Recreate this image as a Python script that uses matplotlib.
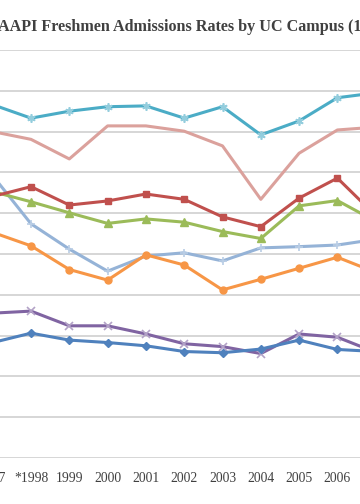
import matplotlib.pyplot as plt

years = list(range(1997, 2008))
tick_labels = ['1997', '*1998', '1999', '2000', '2001', '2002', '2003',
               '2004', '2005', '2006', '2007']

# admission rates (%)
teal = [86.6, 83.3, 85.0, 86.1, 86.3, 83.3, 86.1, 79.2, 82.6, 88.3, 89.5]
pink = [80.0, 78.1, 73.3, 81.4, 81.4, 80.1, 76.5, 63.4, 74.7, 80.4, 81.1]
red = [64.1, 66.5, 62.0, 63.0, 64.7, 63.4, 59.1, 56.7, 63.7, 68.6, 59.4]
green = [65.3, 62.8, 60.1, 57.5, 58.6, 57.8, 55.5, 53.8, 61.8, 63.1, 58.0]
light_blue = [69.2, 57.4, 51.2, 45.8, 49.5, 50.3, 48.3, 51.5, 51.8, 52.2, 53.6]
orange = [55.3, 52.0, 46.2, 43.6, 49.8, 47.3, 41.2, 43.8, 46.5, 49.2, 45.5]
purple = [35.5, 36.0, 32.4, 32.4, 30.4, 28.0, 27.3, 25.6, 30.4, 29.6, 25.9]
blue = [28.3, 30.6, 28.9, 28.3, 27.5, 26.1, 25.8, 26.7, 28.9, 26.6, 26.1]

plt.rcParams['font.family'] = ['Liberation Serif', 'DejaVu Serif']

fig = plt.figure(figsize=(3.6, 5.04), dpi=100)
# the picture is a crop of a wider chart: let the axes run past both edges
ax = fig.add_axes([-40 / 360, 46 / 504, 440 / 360, 408 / 504])

lw = 2.2
ax.plot(years, pink, color='#DBA19C', lw=lw)
ax.plot(years, teal, color='#4BACC6', lw=lw, marker=(6, 2, 0), ms=6,
        mec='#93CDDD', mew=1.2)
ax.plot(years, light_blue, color='#95B3D7', lw=lw, marker='+', ms=6,
        mec='#B9CDE5', mew=1.2)
ax.plot(years, orange, color='#F79646', lw=lw, marker='o', ms=5)
ax.plot(years, green, color='#9BBB59', lw=lw, marker='^', ms=5.5)
ax.plot(years, red, color='#C0504D', lw=lw, marker='s', ms=5)
ax.plot(years, purple, color='#8064A2', lw=lw, marker='x', ms=6,
        mec='#B3A2C7', mew=1.2)
ax.plot(years, blue, color='#4F81BD', lw=lw, marker='D', ms=4)

ax.set_yticks(range(0, 101, 10))
ax.set_ylim(0, 100)
ax.set_xticks(years)
ax.set_xticklabels(tick_labels)
# 1998 sits at 31 px, one year is ~38.3 px
ax.set_xlim(1998 - 71 / 38.3, 1998 + 369 / 38.3)
ax.tick_params(axis='x', length=0, pad=10, labelsize=9.8, labelcolor='#404040')
ax.tick_params(axis='y', length=0, labelleft=False)
ax.grid(axis='y', color='#D0D0D0', lw=1.2)
ax.set_axisbelow(True)
for s in ax.spines.values():
    s.set_visible(False)

fig.text(-0.006, 1 - 27 / 504, 'AAPI Freshmen Admissions Rates by UC Campus (1997-2007)',
         ha='left', va='center', fontsize=11.65, fontweight='bold', color='#404040')

fig.savefig('out.png', dpi=100)
